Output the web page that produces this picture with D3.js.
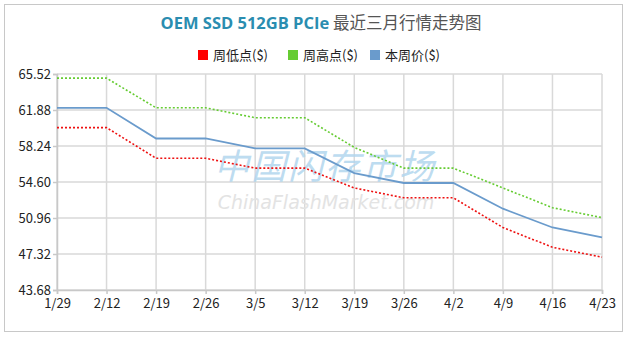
<!DOCTYPE html>
<html><head><meta charset="utf-8">
<script src="https://cdn.jsdelivr.net/npm/d3@7"></script>
<style>
html,body{margin:0;padding:0;background:#fff;}
svg{display:block;}
</style></head>
<body>
<script>
const categories = ["1/29","2/12","2/19","2/26","3/5","3/12","3/19","3/26","4/2","4/9","4/16","4/23"];
const lowValues  = [60.1,60.1,57.0,57.0,56.0,56.0,54.0,53.0,53.0,50.0,48.0,47.0];
const highValues = [65.1,65.1,62.1,62.1,61.1,61.1,58.1,56.0,56.0,54.0,52.0,51.0];
const priceValues= [62.1,62.1,59.0,59.0,58.0,58.0,55.5,54.5,54.5,51.9,50.0,49.0];
const yTicks = [43.68,47.32,50.96,54.60,58.24,61.88,65.52];
const seriesNames = ["周低点($)","周高点($)","本周价($)"];
const titleEn = "OEM SSD 512GB PCIe";
const titleCn = " 最近三月行情走势图";

const W=628,H=339;
const svg=d3.select("body").append("svg").attr("width",W).attr("height",H);
svg.append("rect").attr("x",4.5).attr("y",4.5).attr("width",618).attr("height",327)
  .attr("fill","#fff").attr("stroke","#c8c8c8").attr("stroke-width",1);

const x=d3.scalePoint().domain(categories).range([57,602]);
const y=d3.scaleLinear().domain([43.68,65.52]).range([290,74]);

// grid
const g=svg.append("g");
g.selectAll(".hg").data(yTicks).join("line")
  .attr("x1",57).attr("x2",602).attr("y1",d=>y(d)).attr("y2",d=>y(d))
  .attr("stroke","#d9d9d9").attr("stroke-width",1.5);
g.selectAll(".vg").data(categories).join("line")
  .attr("x1",d=>x(d)).attr("x2",d=>x(d)).attr("y1",74).attr("y2",290)
  .attr("stroke","#d9d9d9").attr("stroke-width",1.5);

// watermark
svg.append("text").attr("x",325).attr("y",179).attr("text-anchor","middle")
  .attr("font-family","Noto Sans CJK SC").attr("font-size",35).attr("font-style","italic")
  .attr("fill","#b2d6ee").attr("opacity",0.85).attr("letter-spacing",2)
  .text("中国闪存市场");
svg.append("text").attr("x",326).attr("y",209).attr("text-anchor","middle")
  .attr("font-family","DejaVu Sans").attr("font-size",19).attr("font-style","italic")
  .attr("fill","#e3e3e3").text("ChinaFlashMarket.com");

// axes
const yAxis=d3.axisLeft(y).tickValues(yTicks).tickFormat(d3.format(".2f")).tickSize(4).tickPadding(2);
const ya=svg.append("g").attr("transform","translate(57,0)").call(yAxis);
const xAxis=d3.axisBottom(x).tickSize(4).tickPadding(5);
const xa=svg.append("g").attr("transform","translate(0,290)").call(xAxis);
[ya,xa].forEach(a=>{
  a.select(".domain").attr("stroke","#c8c8c8").attr("stroke-width",1.5);
  a.selectAll(".tick line").attr("stroke","#c8c8c8").attr("stroke-width",1.5);
  a.selectAll("text").attr("font-family","Noto Sans CJK SC, Noto Sans").attr("font-size",13).attr("fill","#222");
});

const line=d3.line().x((d,i)=>x(categories[i])).y(d=>y(d));
svg.append("path").datum(highValues).attr("d",line).attr("fill","none")
  .attr("stroke","#66cc33").attr("stroke-width",1.6).attr("stroke-dasharray","2,2");
svg.append("path").datum(lowValues).attr("d",line).attr("fill","none")
  .attr("stroke","#ee1111").attr("stroke-width",1.6).attr("stroke-dasharray","2,2");
svg.append("path").datum(priceValues).attr("d",line).attr("fill","none")
  .attr("stroke","#6a9bcc").attr("stroke-width",1.8);

// title
const t=svg.append("text").attr("x",321).attr("y",29).attr("text-anchor","middle")
  .attr("font-size",16.5).attr("font-weight","bold");
t.append("tspan").attr("font-family","Open Sans, Noto Sans").attr("fill","#2a8db0").text(titleEn);
t.append("tspan").attr("font-family","Noto Sans CJK SC").attr("font-weight","normal").attr("fill","#555").text(titleCn);

// legend
const colors=["#ff0000","#66cc33","#6a9bcc"];
const lx=[198,288,370];
seriesNames.forEach((n,i)=>{
  svg.append("rect").attr("x",lx[i]).attr("y",50).attr("width",10).attr("height",10).attr("fill",colors[i]);
  svg.append("text").attr("x",lx[i]+15).attr("y",59.5).attr("font-family","Noto Sans CJK SC")
    .attr("font-size",13).attr("fill","#222").text(n);
});
</script>
</body></html>
